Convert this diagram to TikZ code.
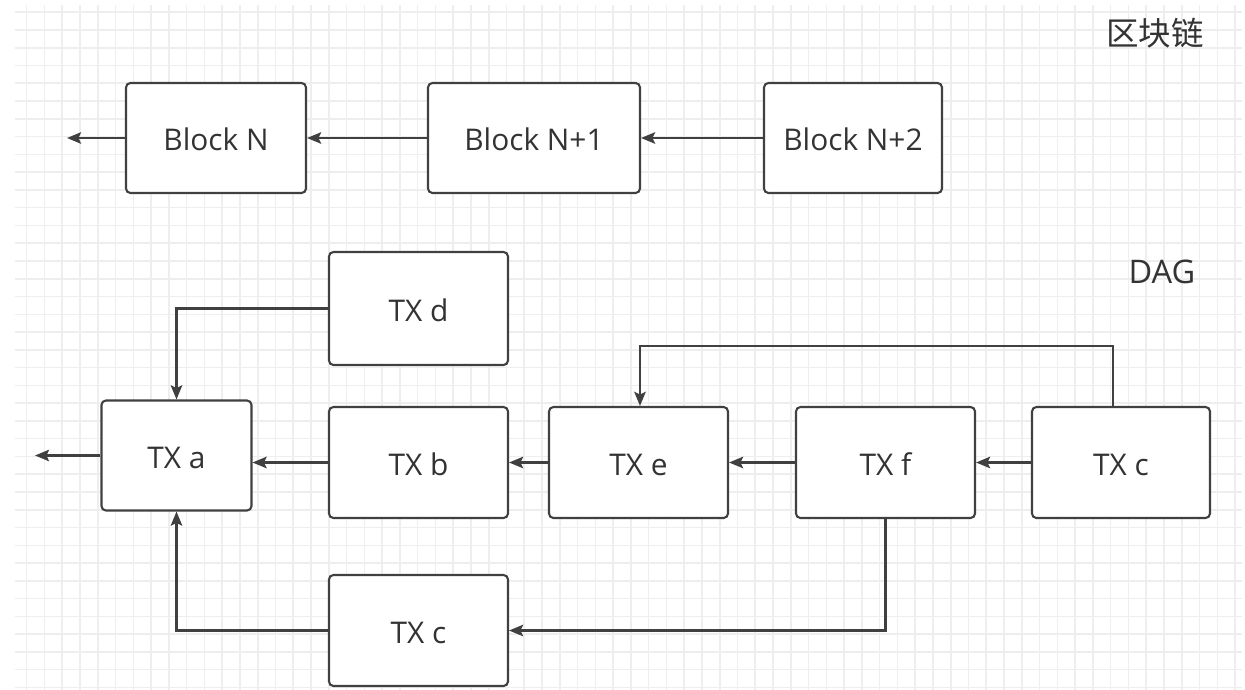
\documentclass[tikz,border=0pt]{standalone}
\usepackage{fontspec}
\setmainfont{Open Sans}
\newfontfamily\cjk{Noto Sans CJK SC}
\usepackage{tikz}
\usetikzlibrary{arrows.meta}
\definecolor{linegray}{HTML}{404040}
\definecolor{textgray}{HTML}{333333}
\definecolor{gridgray}{HTML}{EEEEEE}

\begin{document}
\begin{tikzpicture}[x=0.02cm, y=-0.02cm,
        box/.style={draw=linegray, line width=1.2pt, rounded corners=2.5pt, fill=white,
            text=textgray, font=\fontsize{17}{20}\selectfont, text height=14.5pt, text depth=0pt,
            minimum width=3.58cm, minimum height=2.22cm, inner sep=0pt},
        link/.style={draw=linegray, line width=1.3pt, -{Stealth[length=8pt,width=6.5pt,inset=1.5pt]}},
        title/.style={text=textgray, font=\fontsize{18.5}{22}\selectfont, inner sep=0pt},
        gridline/.style={draw=gridgray, line width=0.9pt}]
        \useasboundingbox (0,0) rectangle (1245,690);
        % grid
        \foreach \i in {0,...,68}
            \draw[gridline] ({26.7+17.77*\i},5) -- ({26.7+17.77*\i},690);
        \foreach \j in {0,...,38}
            \draw[gridline] (15,{12.2+17.77*\j}) -- (1242,{12.2+17.77*\j});
        % titles
        \node[title] (chain) at (1155,33) {\cjk 区块链};
        \node[title] (dag) at (1162,272) {DAG};
        % blockchain
        \node[box, minimum width=3.6cm, minimum height=2.2cm] (blkN) at (216,138) {Block N};
        \node[box, minimum width=4.24cm, minimum height=2.2cm] (blkNa) at (534,138) {Block N+1};
        \node[box, minimum width=3.56cm, minimum height=2.2cm] (blkNb) at (853,138) {Block N+2};
        \coordinate (blkOut) at (67,138);
        \draw[link] (blkN.west) -- (blkOut);
        \draw[link] (blkNa.west) -- (blkN.east);
        \draw[link] (blkNb.west) -- (blkNa.east);
        % DAG
        \node[box, minimum width=3.0cm, minimum height=2.2cm] (txa) at (176.5,455.5) {TX a};
        \node[box, minimum height=2.26cm] (txd) at (418.5,308.5) {TX d};
        \node[box] (txb) at (418.5,462.5) {TX b};
        \node[box] (txe) at (638.5,462.5) {TX e};
        \node[box] (txf) at (885.5,462.5) {TX f};
        \node[box, minimum width=3.56cm] (txcr) at (1121,462.5) {TX c};
        \node[box] (txcb) at (418.5,630.5) {TX c};
        \coordinate (txOut) at (35,455.5);
        \coordinate (loop) at (640,346);
        \draw[link] (txa.west) -- (txOut);
        \draw[link] (txb.west) -- (txb.west -| txa.east);
        \draw[link] (txe.west) -- (txb.east);
        \draw[link] (txf.west) -- (txe.east);
        \draw[link] (txcr.west) -- (txf.east);
        \draw[link] (txd.west) -| (txa.north);
        \draw[link] (txcb.west) -| (txa.south);
        \draw[link] (txf.south) |- (txcb.east);
        % loop over the top
        \draw[link] ([xshift=-0.16cm]txcr.north) |- (loop) -- (loop |- txe.north);
    \end{tikzpicture}
\end{document}
